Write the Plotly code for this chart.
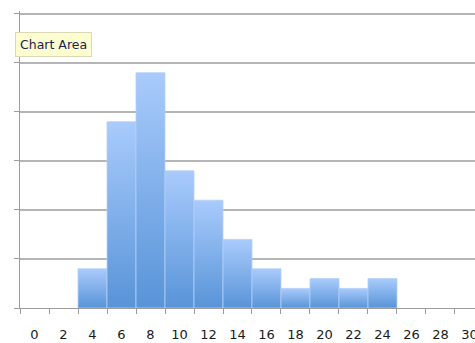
import plotly.graph_objects as go

# Histogram data: bin centres (width 2) and counts
bin_centers = [4, 6, 8, 10, 12, 14, 16, 18, 20, 22, 24]
counts = [4, 19, 24, 14, 11, 7, 4, 2, 3, 2, 3]
bin_width = 2

# Category labels along the x axis
tick_values = [0, 2, 4, 6, 8, 10, 12, 14, 16, 18, 20, 22, 24, 26, 28, 30]
tick_labels = ["0", "2", "4", "6", "8", "10", "12", "14", "16", "18",
               "20", "22", "24", "26", "28", "30"]

grid_color = "#b5b5b5"
axis_color = "#9c9c9c"
font_family = "DejaVu Sans"

fig = go.Figure()

# Each bar is a filled polygon so it can carry a vertical gradient
for c, v in zip(bin_centers, counts):
    x0, x1 = c - bin_width / 2, c + bin_width / 2
    fig.add_trace(go.Scatter(
        x=[x0, x0, x1, x1, x0],
        y=[0, v, v, 0, 0],
        mode="lines",
        fill="toself",
        fillgradient=dict(
            type="vertical",
            colorscale=[[0, "#5894d8"], [1, "#a9cbfc"]],
        ),
        line=dict(color="rgba(180,208,248,0.8)", width=1),
        hoverinfo="skip",
        showlegend=False,
    ))

fig.update_layout(
    width=475,
    height=343,
    margin=dict(l=20, r=0, t=11, b=35, autoexpand=False),
    paper_bgcolor="white",
    plot_bgcolor="white",
    font=dict(family=font_family, size=13, color="#1a1a1a"),
    showlegend=False,
    xaxis=dict(
        range=[-1, 30.38],
        tickmode="array",
        tickvals=tick_values,
        ticktext=tick_labels,
        ticks="",
        ticklabelstandoff=14,
        ticklabeloverflow="allow",
        automargin=False,
        showgrid=False,
        zeroline=False,
        showline=True,
        linecolor=axis_color,
        linewidth=1,
        minor=dict(tick0=-1, dtick=2, ticks="outside", ticklen=5,
                   tickcolor=axis_color, showgrid=False),
        fixedrange=True,
    ),
    yaxis=dict(
        range=[0, 30.3],
        dtick=5,
        showticklabels=False,
        ticks="outside",
        ticklen=5,
        tickcolor=axis_color,
        automargin=False,
        showgrid=True,
        gridcolor=grid_color,
        gridwidth=1.5,
        zeroline=False,
        showline=True,
        linecolor=axis_color,
        linewidth=1,
        fixedrange=True,
    ),
)

# Hover-style label box in the upper left
fig.add_annotation(
    text="Chart Area",
    xref="paper", yref="paper",
    x=-0.011, y=0.886,
    xanchor="left", yanchor="middle",
    showarrow=False,
    font=dict(family=font_family, size=12.5, color="#1c1c50"),
    bgcolor="#fdfdd0",
    bordercolor="#d9d9b8",
    borderwidth=1,
    borderpad=4,
)

fig.write_html("out.html")
